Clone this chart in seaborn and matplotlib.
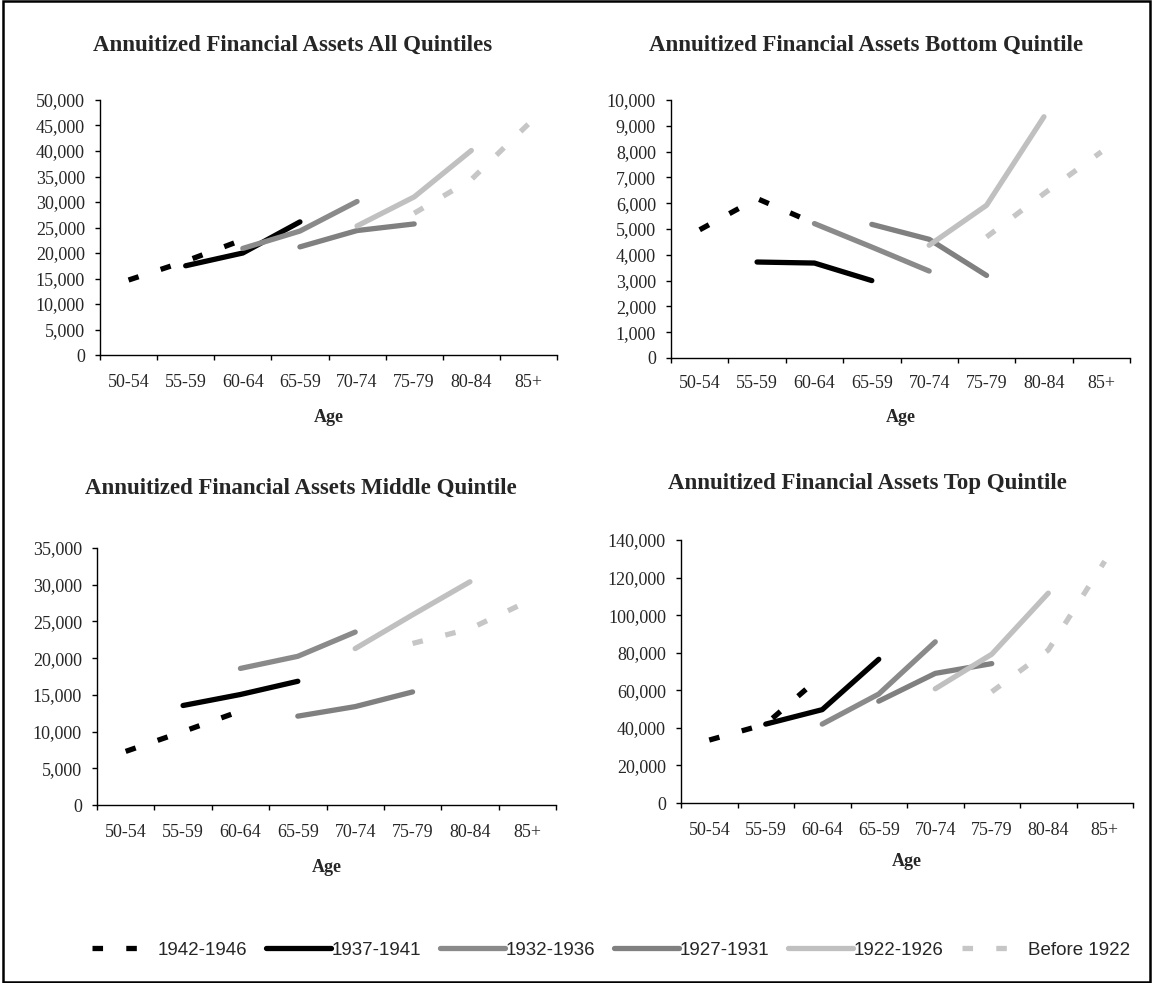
import numpy as np
import pandas as pd
import matplotlib
matplotlib.use("Agg")
import matplotlib.pyplot as plt
from matplotlib.patches import Rectangle
from matplotlib.ticker import FuncFormatter, FixedLocator
import seaborn as sns

# ---------------- data ----------------
ages = ["50-54", "55-59", "60-64", "65-59", "70-74", "75-79", "80-84", "85+"]
cohorts = ["1942-1946", "1937-1941", "1932-1936", "1927-1931", "1922-1926", "Before 1922"]
cohort_first_age = ["50-54", "55-59", "60-64", "65-59", "70-74", "75-79"]

all_quintiles = [
    [14700, 18400, 22600],
    [17500, 20000, 26100],
    [20900, 24300, 30100],
    [21200, 24400, 25700],
    [25300, 31000, 40100],
    [27800, 34400, 45300],
]
bottom_quintile = [
    [4970, 6180, 5220],
    [3720, 3680, 3000],
    [5210, 4300, 3370],
    [5180, 4600, 3200],
    [4370, 5920, 9350],
    [4690, 6370, 7990],
]
middle_quintile = [
    [7300, 10000, 12800],
    [13550, 15050, 16850],
    [18600, 20250, 23550],
    [12100, 13400, 15400],
    [21300, 25900, 30400],
    [22000, 24000, 27700],
]
top_quintile = [
    [33500, 42000, 68000],
    [42000, 49700, 76500],
    [42000, 58000, 85800],
    [54200, 69000, 74200],
    [60800, 79200, 111700],
    [59200, 81400, 128700],
]

titles = [
    "Annuitized Financial Assets All Quintiles",
    "Annuitized Financial Assets Bottom Quintile",
    "Annuitized Financial Assets Middle Quintile",
    "Annuitized Financial Assets Top Quintile",
]
y_max = [50000, 10000, 35000, 140000]
y_step = [5000, 1000, 5000, 20000]
x_label = "Age"

# ---------------- styles ----------------
colors = {
    "1942-1946": "#000000",
    "1937-1941": "#000000",
    "1932-1936": "#8a8a8a",
    "1927-1931": "#808080",
    "1922-1926": "#c0c0c0",
    "Before 1922": "#c6c6c6",
}
dash_pat = (2.0, 4.4)
dashes = {
    "1942-1946": dash_pat,
    "1937-1941": "",
    "1932-1936": "",
    "1927-1931": "",
    "1922-1926": "",
    "Before 1922": dash_pat,
}


def long_frame(values):
    rows = []
    for c, first, vals in zip(cohorts, cohort_first_age, values):
        start = ages.index(first)
        for k, v in enumerate(vals):
            rows.append({"cohort": c, "age_idx": start + k, "value": v})
    return pd.DataFrame(rows)


panels = [all_quintiles, bottom_quintile, middle_quintile, top_quintile]

sns.set_style("white")
plt.rcParams["font.family"] = ["Liberation Serif", "DejaVu Serif"]

W, H = 1153, 983
fig = plt.figure(figsize=(W / 100, H / 100), dpi=100)

# axes boxes in pixels: left, right, top, bottom
boxes = [
    (100, 557, 100, 355),
    (671, 1130, 100, 358),
    (97, 556, 548, 805),
    (681, 1133, 540, 803),
]
title_pos = [(293, 45), (866, 45), (301, 488), (867, 484)]
age_pos_y = [418, 418, 868, 862]
xpad = [13.5, 12.5, 13.5, 13.5]

axes = []
for i, (vals, box) in enumerate(zip(panels, boxes)):
    l, r, t, b = box
    ax = fig.add_axes([l / W, 1 - b / H, (r - l) / W, (b - t) / H])
    axes.append(ax)
    df = long_frame(vals)
    sns.lineplot(
        data=df, x="age_idx", y="value", hue="cohort", style="cohort",
        hue_order=cohorts, style_order=cohorts, palette=colors, dashes=dashes,
        linewidth=3.8, errorbar=None, legend=False, ax=ax,
        solid_capstyle="round", dash_capstyle="butt",
    )
    ax.set_xlim(-0.5, len(ages) - 0.5)
    ax.set_ylim(0, y_max[i])
    ax.set_yticks(np.arange(0, y_max[i] + 1, y_step[i]))
    ax.yaxis.set_major_formatter(FuncFormatter(lambda v, p: f"{v:,.0f}"))
    ax.set_xticks(range(len(ages)))
    ax.set_xticklabels(ages)
    ax.xaxis.set_minor_locator(FixedLocator(np.arange(-0.5, len(ages), 1.0)))
    ax.tick_params(axis="x", which="major", length=0, pad=xpad[i], labelsize=13)
    ax.tick_params(axis="x", which="minor", length=3.8, width=1, direction="out",
                   color="black", bottom=True)
    ax.tick_params(axis="y", which="major", length=3.8, width=1, direction="out",
                   color="black", left=True, pad=7, labelsize=13)
    for s in ["top", "right"]:
        ax.spines[s].set_visible(False)
    for s in ["left", "bottom"]:
        ax.spines[s].set_color("black")
        ax.spines[s].set_linewidth(1)
    ax.set_ylabel("")
    ax.set_xlabel("")
    ax.grid(False)
    ax.set_facecolor("none")
    # titles and axis labels
    tx, ty = title_pos[i]
    fig.text(tx / W, 1 - ty / H, titles[i], ha="center", va="center",
             fontsize=16.5, fontweight="bold")
    fig.text(((l + r) / 2) / W, 1 - age_pos_y[i] / H, x_label, ha="center",
             va="center", fontsize=13, fontweight="bold")

handles = axes[0].get_lines()[: len(cohorts)]
leg = fig.legend(
    handles, cohorts, loc="center", bbox_to_anchor=(611 / W, 1 - 950 / H),
    ncol=6, frameon=False, handlelength=3.45, handletextpad=0.05,
    columnspacing=1.0, prop={"family": "Liberation Sans", "size": 13.5},
)

fig.patches.append(Rectangle((0.0025, 0.0015), 0.995, 0.997, transform=fig.transFigure,
                             fill=False, edgecolor="black", linewidth=1.8))

fig.savefig("out.png", dpi=100)
